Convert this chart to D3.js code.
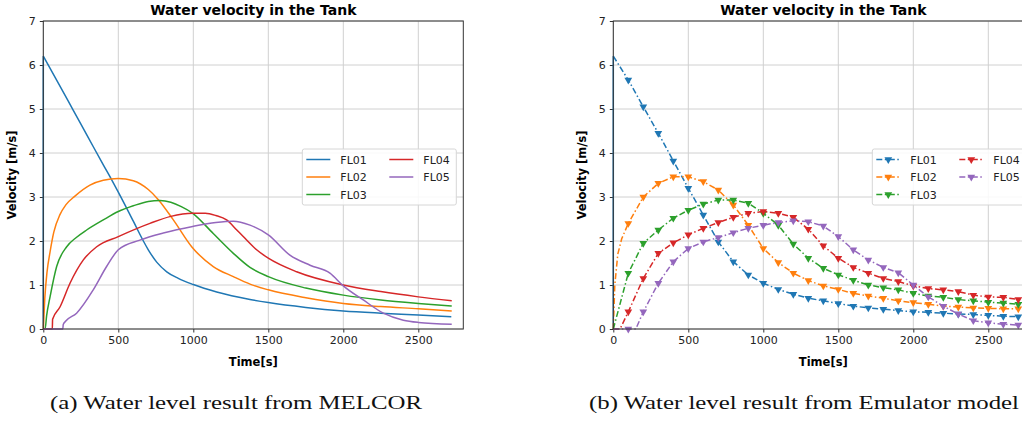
<!doctype html>
<html>
<head>
<meta charset="utf-8">
<script src="https://d3js.org/d3.v7.min.js"></script>
<style>
    body { margin: 0; background: #fff; }
    text { font-family: "DejaVu Sans", sans-serif; }
</style>
</head>
<body>
<svg width="1022" height="425"></svg>
<script>

    // ---- data ----
    var names = ["FL01", "FL02", "FL03", "FL04", "FL05"];
    var colors = ["#1f77b4", "#ff7f0e", "#2ca02c", "#d62728", "#9467bd"];
    var xTicks = [0, 500, 1000, 1500, 2000, 2500];
    var yTicks = [0, 1, 2, 3, 4, 5, 6, 7];

    // (a) MELCOR  [time s, velocity m/s]
    var melcorFL01 = [[0,6.2],[100,5.59],[200,4.97],[300,4.35],[400,3.73],[456,3.39],[500,3.11],[600,2.45],[667,2.0],[700,1.8],[756,1.52],[823,1.3],[900,1.15],[1000,1.01],[1156,0.84],[1378,0.67],[1500,0.6],[1750,0.49],[2000,0.41],[2250,0.36],[2500,0.32],[2720,0.28]];
    var melcorFL02 = [[0,0],[10,0.7],[25,1.3],[45,1.75],[70,2.2],[111,2.6],[150,2.82],[211,3.02],[311,3.27],[400,3.38],[500,3.42],[600,3.37],[700,3.17],[767,2.94],[867,2.48],[989,1.87],[1133,1.42],[1267,1.19],[1378,1.02],[1500,0.89],[1750,0.71],[2000,0.58],[2250,0.51],[2500,0.46],[2723,0.41]];
    var melcorFL03 = [[0,0],[12,0],[22,0.3],[45,0.73],[89,1.42],[156,1.87],[220,2.08],[289,2.25],[400,2.48],[500,2.67],[600,2.8],[700,2.9],[778,2.92],[850,2.88],[920,2.78],[996,2.63],[1133,2.17],[1267,1.72],[1378,1.4],[1500,1.19],[1750,0.93],[2000,0.77],[2250,0.66],[2500,0.58],[2723,0.52]];
    var melcorFL04 = [[0,0],[60,0],[62,0.22],[111,0.5],[178,1.04],[267,1.57],[356,1.87],[500,2.1],[711,2.4],[850,2.56],[996,2.63],[1080,2.63],[1150,2.58],[1222,2.48],[1290,2.25],[1333,2.1],[1422,1.8],[1500,1.61],[1689,1.3],[2000,1.0],[2250,0.85],[2500,0.73],[2723,0.64]];
    var melcorFL05 = [[0,0],[130,0],[133,0.1],[150,0.18],[222,0.36],[333,0.89],[422,1.42],[500,1.8],[644,2.02],[800,2.18],[996,2.33],[1150,2.42],[1267,2.45],[1378,2.36],[1500,2.14],[1644,1.68],[1778,1.45],[1911,1.27],[2000,0.98],[2133,0.66],[2267,0.36],[2400,0.2],[2500,0.15],[2723,0.11]];

    // (b) Emulator  [time s, velocity m/s], markers every 100 s
    var emuFL01 = [[0,6.2],[100,5.66],[200,5.05],[300,4.45],[400,3.82],[500,3.2],[600,2.59],[700,1.98],[800,1.53],[900,1.23],[1000,1.04],[1100,0.9],[1200,0.79],[1300,0.7],[1400,0.64],[1500,0.58],[1600,0.52],[1700,0.48],[1800,0.45],[1900,0.42],[2000,0.39],[2100,0.38],[2200,0.36],[2300,0.34],[2400,0.33],[2500,0.31],[2600,0.29],[2700,0.28]];
    var emuFL02 = [[0,0],[10,1.0],[30,1.7],[56,2.05],[100,2.4],[200,3.0],[300,3.31],[400,3.46],[500,3.46],[600,3.35],[700,3.16],[800,2.82],[900,2.36],[1000,1.83],[1100,1.51],[1200,1.27],[1300,1.1],[1400,0.98],[1500,0.9],[1600,0.81],[1700,0.75],[1800,0.7],[1900,0.64],[2000,0.6],[2100,0.56],[2200,0.52],[2300,0.5],[2400,0.48],[2500,0.47],[2600,0.46],[2700,0.46]];
    var emuFL03 = [[0,0],[100,1.27],[200,1.95],[300,2.25],[400,2.52],[500,2.7],[600,2.84],[700,2.93],[800,2.93],[900,2.86],[1000,2.63],[1100,2.36],[1200,1.93],[1300,1.61],[1400,1.38],[1500,1.23],[1600,1.11],[1700,1.0],[1800,0.94],[1900,0.89],[2000,0.81],[2100,0.75],[2200,0.72],[2300,0.67],[2400,0.64],[2500,0.61],[2600,0.59],[2700,0.56]];
    var emuFL04 = [[0,0],[45,0],[100,0.39],[200,1.15],[300,1.72],[400,1.96],[500,2.14],[600,2.29],[700,2.42],[800,2.54],[900,2.63],[1000,2.67],[1100,2.63],[1200,2.54],[1300,2.27],[1400,1.89],[1500,1.61],[1600,1.4],[1700,1.27],[1800,1.15],[1900,1.08],[2000,0.98],[2100,0.92],[2200,0.89],[2300,0.85],[2400,0.77],[2500,0.73],[2600,0.72],[2700,0.67]];
    var emuFL05 = [[0,0],[100,0],[150,0],[200,0.39],[300,1.04],[400,1.53],[500,1.83],[600,1.98],[700,2.08],[800,2.19],[900,2.29],[1000,2.36],[1100,2.42],[1200,2.46],[1300,2.44],[1400,2.34],[1500,2.1],[1600,1.8],[1700,1.57],[1800,1.4],[1900,1.28],[2000,1.0],[2100,0.73],[2200,0.52],[2300,0.34],[2400,0.19],[2500,0.14],[2600,0.11],[2700,0.09]];

    var melcor = [melcorFL01, melcorFL02, melcorFL03, melcorFL04, melcorFL05];
    var emulator = [emuFL01, emuFL02, emuFL03, emuFL04, emuFL05];

    var svg = d3.select("svg");
    var plotW = 420, plotH = 308, plotTop = 21;
    var dashDot = "6,2.5,1.5,2.5";
    var tri = d3.symbol().type(d3.symbolTriangle).size(26);

    function drawPanel(left, series, emu, caption, capW) {
        var x = d3.scaleLinear().domain([0, 2800]).range([0, plotW]);
        var y = d3.scaleLinear().domain([0, 7]).range([plotH, 0]);

        var g = svg.append("g").attr("transform", "translate(" + left + "," + plotTop + ")");

        // grid
        g.selectAll(".gx").data(xTicks).enter().append("line")
         .attr("x1", function(d) { return x(d); }).attr("x2", function(d) { return x(d); })
         .attr("y1", 0).attr("y2", plotH)
         .attr("stroke", "#d0d0d0").attr("stroke-width", 1);
        g.selectAll(".gy").data(yTicks).enter().append("line")
         .attr("x1", 0).attr("x2", plotW)
         .attr("y1", function(d) { return y(d); }).attr("y2", function(d) { return y(d); })
         .attr("stroke", "#d0d0d0").attr("stroke-width", 1);

        // axes
        var ax = g.append("g").attr("transform", "translate(0," + plotH + ")")
         .call(d3.axisBottom(x).tickValues(xTicks).tickSize(3.5).tickPadding(4).tickFormat(d3.format("d")));
        var ay = g.append("g")
         .call(d3.axisLeft(y).tickValues(yTicks).tickSize(3.5).tickPadding(4).tickFormat(d3.format("d")));
        [ax, ay].forEach(function(a) {
            a.select(".domain").remove();
            a.selectAll("line").attr("stroke", "#333");
            a.selectAll("text").attr("font-size", "11px").attr("fill", "#222")
             .attr("font-family", "DejaVu Sans");
        });

        // lines
        var line = d3.line()
            .x(function(d) { return x(d[0]); })
            .y(function(d) { return y(d[1]); })
            .curve(emu ? d3.curveLinear : d3.curveMonotoneX);

        series.forEach(function(s, i) {
            // a series that starts above zero rises from zero at its first time
            if (s[0][1] > 0) {
                g.append("line")
                 .attr("x1", x(s[0][0])).attr("x2", x(s[0][0]))
                 .attr("y1", y(0)).attr("y2", y(s[0][1]))
                 .attr("stroke", colors[i]).attr("stroke-width", 1.5);
            }
            g.append("path").datum(s)
             .attr("d", line)
             .attr("fill", "none")
             .attr("stroke", colors[i])
             .attr("stroke-width", 1.5)
             .attr("stroke-dasharray", emu ? dashDot : null);
            if (emu) {
                g.selectAll(".m" + i)
                 .data(s.filter(function(d) { return d[0] > 0 && d[0] % 100 === 0; }))
                 .enter().append("path")
                 .attr("d", tri)
                 .attr("transform", function(d) { return "translate(" + x(d[0]) + "," + y(d[1]) + ") rotate(180)"; })
                 .attr("fill", colors[i]);
            }
        });

        // frame
        g.append("rect").attr("width", plotW).attr("height", plotH)
         .attr("fill", "none").attr("stroke", "#333").attr("stroke-width", 1);

        // title and labels
        g.append("text").attr("x", plotW / 2).attr("y", -6)
         .attr("text-anchor", "middle").attr("font-size", "14px").attr("font-weight", "bold")
         .text("Water velocity in the Tank");
        g.append("text").attr("x", plotW / 2).attr("y", plotH + 37)
         .attr("text-anchor", "middle").attr("font-size", "11.5px").attr("font-weight", "bold")
         .text("Time[s]");
        g.append("text").attr("transform", "translate(-27," + plotH / 2 + ") rotate(-90)")
         .attr("text-anchor", "middle").attr("font-size", "11.5px").attr("font-weight", "bold")
         .text("Velocity [m/s]");

        // legend
        var bx = 259, by = 128;
        var lg = g.append("g").attr("transform", "translate(" + bx + "," + by + ")");
        lg.append("rect").attr("width", 154).attr("height", 56).attr("rx", 2)
         .attr("fill", "#fff").attr("fill-opacity", 0.85)
         .attr("stroke", "#d6d6d6").attr("stroke-width", 1);
        names.forEach(function(n, i) {
            var col = i < 3 ? 0 : 1, row = i < 3 ? i : i - 3;
            var lx = col === 0 ? 4 : 87, ly = 10.5 + row * 17.5;
            lg.append("line").attr("x1", lx).attr("x2", lx + 24).attr("y1", ly).attr("y2", ly)
             .attr("stroke", colors[i]).attr("stroke-width", 1.5)
             .attr("stroke-dasharray", emu ? dashDot : null);
            if (emu) {
                lg.append("path").attr("d", tri)
                 .attr("transform", "translate(" + (lx + 12) + "," + ly + ") rotate(180)")
                 .attr("fill", colors[i]);
            }
            lg.append("text").attr("x", lx + 34).attr("y", ly + 4)
             .attr("font-size", "11px").attr("fill", "#222").text(n);
        });

        // caption
        svg.append("text")
         .attr("x", left + capW.c).attr("y", 409)
         .attr("text-anchor", "middle")
         .style("font-family", "Liberation Serif")
         .attr("font-size", "18px").attr("fill", "#111")
         .attr("textLength", capW.w).attr("lengthAdjust", "spacingAndGlyphs")
         .text(caption);
    }

    drawPanel(43.3, melcor, false, "(a) Water level result from MELCOR", {c: 192.7, w: 372});
    drawPanel(613.3, emulator, true, "(b) Water level result from Emulator model", {c: 190.7, w: 430});

</script>
</body>
</html>
